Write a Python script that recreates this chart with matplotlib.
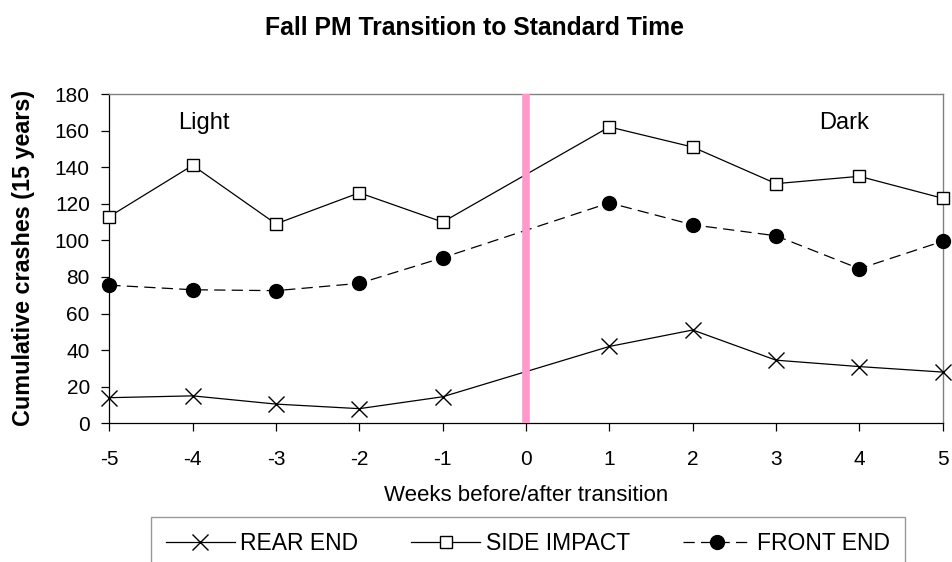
import matplotlib
matplotlib.use("Agg")
import matplotlib.pyplot as plt

plt.rcParams['font.family'] = ['Liberation Sans', 'DejaVu Sans']
plt.rcParams['axes.unicode_minus'] = False

weeks = [-5, -4, -3, -2, -1, 1, 2, 3, 4, 5]
rear_end = [14, 15, 10.5, 8, 14.5, 42, 51, 34.5, 31, 28]
side_impact = [113, 141, 109, 126, 110, 162, 151, 131, 135, 123]
front_end = [75.5, 73, 72.5, 76.5, 90.5, 120.5, 108.5, 102.5, 84.5, 99.5]
series_names = ["REAR END", "SIDE IMPACT", "FRONT END"]
x_ticks = [-5, -4, -3, -2, -1, 0, 1, 2, 3, 4, 5]
y_ticks = [0, 20, 40, 60, 80, 100, 120, 140, 160, 180]
transition_week = 0

fig = plt.figure(figsize=(9.53, 5.62), dpi=100)
ax = fig.add_axes([109.3 / 953, 1 - 423.3 / 562, (942.7 - 109.3) / 953, (423.3 - 94) / 562])

ax.plot(weeks, rear_end, color='black', lw=0.9, marker='x', ms=11, mew=1.0,
        label=series_names[0], zorder=4, clip_on=False)
ax.plot(weeks, side_impact, color='black', lw=0.9, marker='s', ms=9, mfc='white',
        mec='black', mew=1.0, label=series_names[1], zorder=4, clip_on=False)
ax.plot(weeks, front_end, color='black', lw=0.9, ls=(0, (9, 5)), marker='o', ms=10,
        mfc='black', mec='black', label=series_names[2], zorder=4, clip_on=False)

ax.axvline(transition_week, color='#FF99CC', lw=5.5, zorder=5)

ax.set_xlim(-5, 5)
ax.set_ylim(0, 180)
ax.set_xticks(x_ticks)
ax.set_yticks(y_ticks)
ax.tick_params(axis='both', direction='out', length=6, width=0.9, labelsize=15,
               color='black')
ax.tick_params(axis='y', pad=8)
ax.tick_params(axis='x', pad=13)

for s in ['top', 'right']:
    ax.spines[s].set_color('#808080')
    ax.spines[s].set_linewidth(1.0)
for s in ['left', 'bottom']:
    ax.spines[s].set_color('black')
    ax.spines[s].set_linewidth(0.9)

ax.text(-3.87, 164, 'Light', fontsize=17, ha='center', va='center')
ax.text(3.82, 164, 'Dark', fontsize=17, ha='center', va='center')

ax.set_xlabel('Weeks before/after transition', fontsize=16, labelpad=12)
fig.text(24 / 953, 1 - 258 / 562, 'Cumulative crashes (15 years)', rotation=90,
         fontsize=16.8, fontweight='bold', ha='center', va='center')

fig.text(475 / 953, 1 - 28 / 562, 'Fall PM Transition to Standard Time',
         fontsize=17.8, fontweight='bold', ha='center', va='center')

leg = fig.legend(loc='upper center', bbox_to_anchor=(528 / 953, 1 - 517 / 562),
                 ncol=3, fontsize=16.5, frameon=True, fancybox=False,
                 edgecolor='#808080', handlelength=3.0, columnspacing=2.3,
                 handletextpad=0.25, borderpad=0.65, borderaxespad=0)
leg.get_frame().set_linewidth(1.0)

fig.savefig('out.png', dpi=100)
